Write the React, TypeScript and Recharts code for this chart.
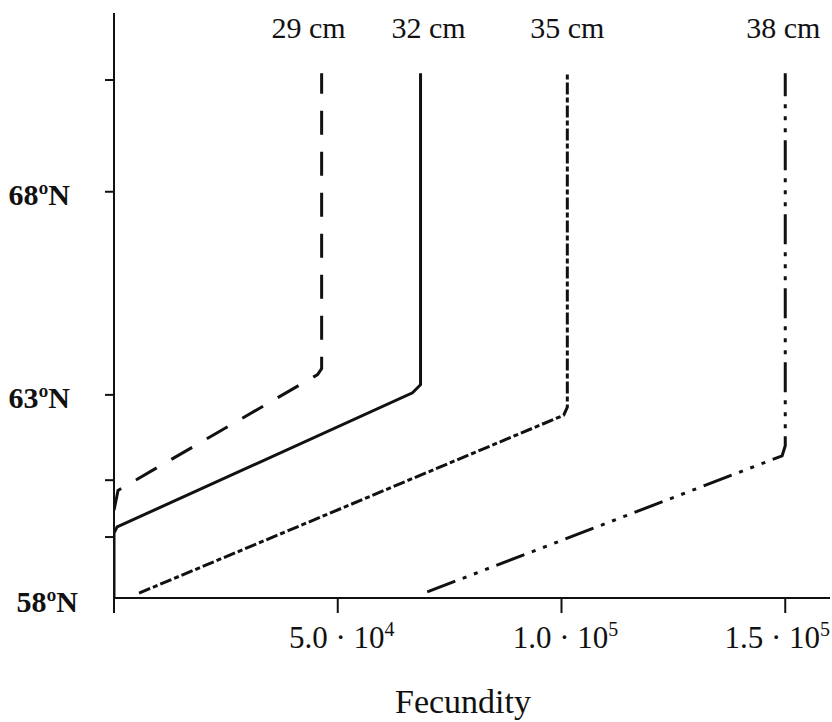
import { LineChart, Line, XAxis, YAxis } from 'recharts'

const serif = "'Liberation Serif', 'Times New Roman', Times, serif"

// lengths of the four curves
const sizes = ['29 cm', '32 cm', '35 cm', '38 cm']

// fecundity (x) and latitude (y) of each broken line
const fec29 = [0, 900, 45500, 46400, 46400]
const lat29 = [60.16, 60.65, 63.5, 63.65, 70.92]
const fec32 = [0, 0, 700, 66700, 68500, 68500]
const lat32 = [58.02, 59.6, 59.75, 63.05, 63.25, 70.92]
const fec35 = [5600, 100500, 101300, 101300]
const lat35 = [58.12, 62.5, 62.7, 70.92]
const fec38 = [70000, 149300, 150000, 150000]
const lat38 = [58.15, 61.5, 61.75, 70.92]

const xTicks = [0, 50000, 100000, 150000]
const yTicks = [58, 59.5, 60.9, 63, 68, 70.75]
const yLabelled = [58, 63, 68]

const dashes = ['24 17', '', '12 3 5 3', '30 8 4 8 4 8 4 8']
const labelShift = [-13, 8, 0, -2]

const toPoints = (f: number[], l: number[]) => f.map((v, i) => ({ fec: v, lat: l[i] }))
const series = [
  toPoints(fec29, lat29),
  toPoints(fec32, lat32),
  toPoints(fec35, lat35),
  toPoints(fec38, lat38),
]

function XTick(props: any) {
  const { x, y, payload } = props
  const v = payload.value as number
  const last = v === xTicks[xTicks.length - 1]
  return (
    <g>
      <line x1={x} x2={x} y1={y - 17} y2={y - 2} stroke="#111" strokeWidth={2} />
      {v !== 0 && (() => {
        const exp = Math.floor(Math.log10(v))
        const mant = (v / Math.pow(10, exp)).toFixed(1)
        return (
          <text x={x} y={y} dx={last ? -8 : 4} dy={33} textAnchor="middle" fontFamily={serif} fontSize={31} fill="#111">
            <tspan>{`${mant} · 10`}</tspan>
            <tspan dy={-12} fontSize={20}>{exp}</tspan>
          </text>
        )
      })()}
    </g>
  )
}

function YTick(props: any) {
  const { x, y, payload } = props
  const v = payload.value as number
  const is58 = v === 58
  return (
    <g>
      {!is58 && <line x1={x + 2} x2={x + 11} y1={y} y2={y} stroke="#111" strokeWidth={2} />}
      {yLabelled.includes(v) && (
        <text
          x={is58 ? x - 25 : x - 33}
          y={y}
          dy={is58 ? 14 : 13}
          textAnchor="end"
          fontFamily={serif}
          fontWeight="bold"
          fontSize={30}
          fill="#111"
        >
          {`${v}ºN`}
        </text>
      )}
    </g>
  )
}

const topLabel = (name: string, last: number, shift: number) => (p: any) => {
  if (p.index !== last) return null
  return (
    <text x={p.x + shift} y={p.y} dy={-35} textAnchor="middle" fontFamily={serif} fontSize={30} fill="#111">
      {name}
    </text>
  )
}

export default function App() {
  return (
    <div style={{ position: 'fixed', left: 0, top: 0, background: '#fff' }}>
      <LineChart width={832} height={722} margin={{ top: 13, right: 2, left: 0, bottom: 0 }}>
        <XAxis
          dataKey="fec"
          type="number"
          domain={[0, 160000]}
          ticks={xTicks}
          height={124}
          tickSize={15}
          tickLine={false}
          tick={<XTick />}
          axisLine={{ stroke: '#111', strokeWidth: 2 }}
          allowDataOverflow
          label={{
            value: 'Fecundity',
            position: 'insideBottom',
            offset: 9,
            dx: -9,
            style: { fontFamily: serif, fontSize: 34, fill: '#111' },
          }}
        />
        <YAxis
          dataKey="lat"
          type="number"
          domain={[58, 72.4]}
          ticks={yTicks}
          width={114}
          tickSize={9}
          tickLine={false}
          tick={<YTick />}
          axisLine={{ stroke: '#111', strokeWidth: 2 }}
          allowDataOverflow
        />
        {series.map((d, i) => (
          <Line
            key={sizes[i]}
            data={d}
            dataKey="lat"
            type="linear"
            stroke="#111"
            strokeWidth={3}
            strokeDasharray={dashes[i] || undefined}
            dot={false}
            activeDot={false}
            isAnimationActive={false}
            label={topLabel(sizes[i], d.length - 1, labelShift[i])}
          />
        ))}
      </LineChart>
    </div>
  )
}
